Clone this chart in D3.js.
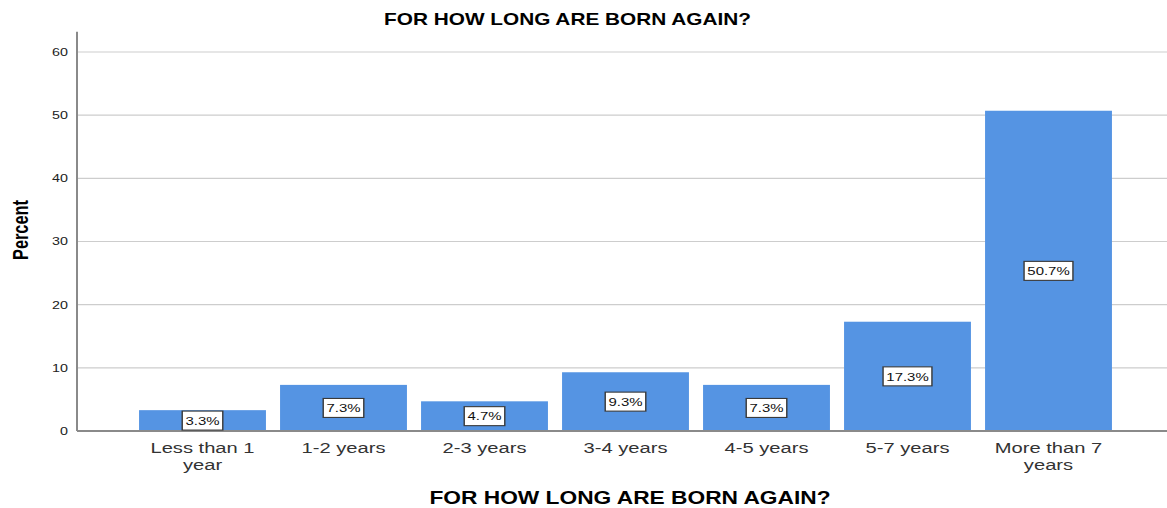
<!DOCTYPE html>
<html>
<head>
<meta charset="utf-8">
<script src="https://cdn.jsdelivr.net/npm/d3@7"></script>
<style>
  body { margin: 0; background: #fff; }
  svg { display: block; }
  text { font-family: "Liberation Sans", Arial, sans-serif; }
</style>
</head>
<body>
<svg id="chart" width="1167" height="508"></svg>
<script>
// Data
const categories = ["Less than 1 year", "1-2 years", "2-3 years", "3-4 years", "4-5 years", "5-7 years", "More than 7 years"];
const percents = [3.3, 7.3, 4.7, 9.3, 7.3, 17.3, 50.7];
const valueLabels = ["3.3%", "7.3%", "4.7%", "9.3%", "7.3%", "17.3%", "50.7%"];
const yTicks = [0, 10, 20, 30, 40, 50, 60];
const chartTitle = "FOR HOW LONG ARE BORN AGAIN?";
const xTitle = "FOR HOW LONG ARE BORN AGAIN?";
const yTitle = "Percent";

// Layout
const W = 1167, H = 508;
const SX = 1.3;               // wide glyph stretch used for all text
const plot = { left: 77, right: 1167, top: 32, bottom: 431 };
const axisMax = 63.2;         // y axis line runs a little past the last tick

const svg = d3.select("#chart");

const x = d3.scaleBand()
  .domain(categories)
  .range([132, 1119])
  .paddingInner(0.1)
  .paddingOuter(0.05);

const y = d3.scaleLinear()
  .domain([0, 60])
  .range([plot.bottom, 52]);

// Gridlines
svg.append("g")
  .selectAll("line")
  .data(yTicks.filter(t => t > 0))
  .join("line")
  .attr("x1", plot.left).attr("x2", plot.right)
  .attr("y1", d => y(d)).attr("y2", d => y(d))
  .attr("stroke", "#cdcdcd")
  .attr("stroke-width", 1.2);

// Bars
svg.append("g")
  .selectAll("rect")
  .data(categories)
  .join("rect")
  .attr("x", d => x(d))
  .attr("width", x.bandwidth())
  .attr("y", (d, i) => y(percents[i]))
  .attr("height", (d, i) => y(0) - y(percents[i]))
  .attr("fill", "#5594e3");

// Axis lines
svg.append("line")
  .attr("x1", plot.left).attr("x2", plot.left)
  .attr("y1", y(axisMax)).attr("y2", y(0))
  .attr("stroke", "#8a8a8a").attr("stroke-width", 2);
svg.append("line")
  .attr("x1", plot.left).attr("x2", plot.right)
  .attr("y1", y(0)).attr("y2", y(0))
  .attr("stroke", "#8a8a8a").attr("stroke-width", 2);

// Y tick labels
svg.append("g")
  .selectAll("text")
  .data(yTicks)
  .join("text")
  .attr("transform", d => `translate(${plot.left - 9},${y(d)}) scale(${SX},1)`)
  .attr("dy", "0.36em")
  .attr("text-anchor", "end")
  .attr("font-size", 11)
  .attr("fill", "#222")
  .text(d => d);

// Category labels, wrapped to the band width
const catG = svg.append("g")
  .selectAll("g")
  .data(categories)
  .join("g")
  .attr("transform", d => `translate(${x(d) + x.bandwidth() / 2},453) scale(${SX},1)`);

catG.each(function (d) {
  const g = d3.select(this);
  const t = g.append("text")
    .attr("text-anchor", "middle")
    .attr("font-size", 15.5)
    .attr("fill", "#333");
  const words = d.split(" ");
  const maxW = x.bandwidth() / SX;
  let line = [];
  let tspan = t.append("tspan").attr("x", 0).attr("dy", 0);
  words.forEach(w => {
    line.push(w);
    tspan.text(line.join(" "));
    if (tspan.node().getComputedTextLength() > maxW && line.length > 1) {
      line.pop();
      tspan.text(line.join(" "));
      line = [w];
      tspan = t.append("tspan").attr("x", 0).attr("dy", 17.5).text(w);
    }
  });
});

// Value labels in boxes at the middle of each bar
const valG = svg.append("g")
  .selectAll("g")
  .data(categories)
  .join("g")
  .attr("transform", (d, i) =>
    `translate(${x(d) + x.bandwidth() / 2},${(y(percents[i]) + y(0)) / 2}) scale(${SX},1)`);

valG.each(function (d, i) {
  const g = d3.select(this);
  const rect = g.append("rect");
  const t = g.append("text")
    .attr("text-anchor", "middle")
    .attr("dy", "0.36em")
    .attr("font-size", 11.5)
    .attr("fill", "#111")
    .text(valueLabels[i]);
  const w = t.node().getComputedTextLength() + 5;
  rect.attr("x", -w / 2).attr("y", -9.5)
    .attr("width", w).attr("height", 19)
    .attr("fill", "#fff")
    .attr("stroke", "#3a3a3a")
    .attr("stroke-width", 1.1);
});

// Titles
svg.append("text")
  .attr("transform", `translate(567.5,25) scale(${SX},1)`)
  .attr("text-anchor", "middle")
  .attr("font-size", 16)
  .attr("font-weight", "bold")
  .attr("fill", "#000")
  .text(chartTitle);

svg.append("text")
  .attr("transform", `translate(630,504) scale(${SX},1)`)
  .attr("text-anchor", "middle")
  .attr("font-size", 17.5)
  .attr("font-weight", "bold")
  .attr("fill", "#000")
  .text(xTitle);

svg.append("text")
  .attr("transform", `translate(28,230) scale(${SX},1) rotate(-90)`)
  .attr("text-anchor", "middle")
  .attr("font-size", 16.4)
  .attr("font-weight", "bold")
  .attr("fill", "#000")
  .text(yTitle);
</script>
</body>
</html>
